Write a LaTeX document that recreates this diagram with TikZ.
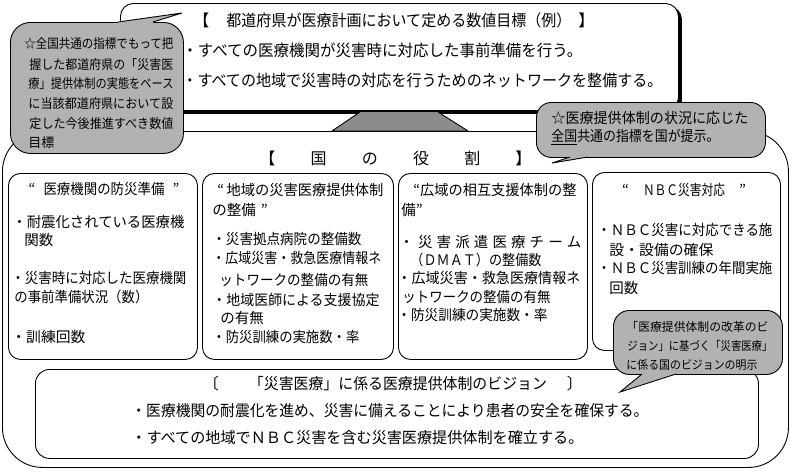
\documentclass[tikz,border=0pt]{standalone}
\usepackage{fontspec}
\setmainfont{Noto Sans CJK JP}
\usepackage{graphicx}
\definecolor{callgray}{RGB}{178,178,178}
\definecolor{trapgray}{RGB}{140,140,140}
\newcommand\fitw[2]{\resizebox{#1pt}{\height}{#2}}
\newcommand\tline[5]{\node[txt] (#1) at (#2,#3) {\fitw{#4}{#5}};}
\tikzset{
  box/.style={draw, fill=white, rounded corners=12pt, line width=0.9pt, inner sep=0pt, anchor=north west},
  callout/.style={draw, fill=callgray, line width=0.9pt, inner sep=0pt, anchor=north west},
  txt/.style={inner sep=0pt, anchor=west},
  fbig/.style={font=\fontsize{16}{19}\selectfont},
  fmid/.style={font=\fontsize{15.5}{18}\selectfont},
  fbox/.style={font=\fontsize{14.5}{17}\selectfont},
  fcall/.style={font=\fontsize{13}{15}\selectfont},
  fsmall/.style={font=\fontsize{12}{14}\selectfont},
}
\begin{document}
\begin{tikzpicture}[x=1pt,y=-1pt,line width=0.9pt]
\useasboundingbox (0,0) rectangle (792,471);
\fill[white] (0,0) rectangle (792,471);

% outer frame and inner boxes
\node[box, rounded corners=40pt, minimum width=786pt, minimum height=336pt] (outer) at (2,131) {};
\node[box, minimum width=189pt, minimum height=186pt] (b1) at (8,173) {};
\node[box, minimum width=191pt, minimum height=186pt] (b2) at (202,173) {};
\node[box, minimum width=189pt, minimum height=186pt] (b3) at (398,173) {};
\node[box, minimum width=188pt, minimum height=178pt] (b4) at (592,172) {};
\node[box, rounded corners=14pt, minimum width=723pt, minimum height=89pt] (vb) at (35,369) {};

% top box with shadow
\node[box, fill=black, rounded corners=13pt, minimum width=558pt, minimum height=107pt] (tshadow) at (123,6) {};
\node[box, rounded corners=13pt, minimum width=558pt, minimum height=107pt] (tb) at (120,3) {};

% trapezoid link
\fill[trapgray] (332,131) -- (360,112) -- (438,112) -- (468,131) -- cycle;
\draw (332,131) -- (360,112) (438,112) -- (468,131) (332,131) -- (468,131);

% left callout
\node[callout, rounded corners=20pt, minimum width=173pt, minimum height=131pt] (lc) at (10,22) {};
\fill[callgray] (118,22) -- (182,13) -- (153,22) -- (153,24.5) -- (118,24.5) -- cycle;
\draw (118,22) -- (182,13) -- (153,22);

% right callout
\node[callout, rounded corners=15pt, minimum width=229pt, minimum height=55pt] (rc) at (536,102) {};
\fill[callgray] (570,157) -- (552,163) -- (588,157) -- (588,154.5) -- (570,154.5) -- cycle;
\draw (570,157) -- (552,163) -- (588,157);

% bottom-right callout
\node[callout, rounded corners=16pt, minimum width=169pt, minimum height=64pt] (brc) at (613,310) {};
\fill[callgray] (642,374) -- (620,392) -- (676,374) -- (676,371.5) -- (642,371.5) -- cycle;
\draw (642,374) -- (620,392) -- (676,374);

% top box text
\begin{scope}[every node/.append style={fbig}]
\node[txt] (ttitle) at (193,20) {【\hspace{17pt}\fitw{345}{都道府県が医療計画において定める数値目標（例）}\hspace{7pt}】};
\tline{t1}{182}{50}{400}{・すべての医療機関が災害時に対応した事前準備を行う。}
\tline{t2}{182}{80}{480}{・すべての地域で災害時の対応を行うためのネットワークを整備する。}
\node[txt] (hdr) at (259,158) {\makebox[272pt]{【\hfill 国\hfill の\hfill 役\hfill 割\hfill 】}};
\end{scope}

% left callout text
\begin{scope}[every node/.append style={fcall}]
\tline{l1}{24}{44}{149}{☆全国共通の指標でもって把}
\tline{l2}{29}{65}{144}{握した都道府県の「災害医}
\tline{l3}{28}{84}{145}{療」提供体制の実態をベース}
\tline{l4}{28}{104}{145}{に当該都道府県において設}
\tline{l5}{29}{124}{144}{定した今後推進すべき数値}
\node[txt] (l6) at (28,143) {目標};
\end{scope}

% right callout text
\begin{scope}[every node/.append style={font=\fontsize{14.5}{17}\selectfont}]
\tline{r1}{551}{118}{197}{☆医療提供体制の状況に応じた}
\tline{r2}{551}{137}{168}{\underline{全国}共通の指標を国が提示。}
\end{scope}

% bottom-right callout text
\begin{scope}[every node/.append style={fsmall}]
\tline{c1}{626}{327}{142}{「医療提供体制の改革のビ}
\tline{c2}{627}{346}{145}{ジョン」に基づく「災害医療」}
\tline{c3}{626}{365}{131}{に係る国のビジョンの明示}
\end{scope}

% box texts
\begin{scope}[every node/.append style={fbox}]
\node[inner sep=0pt] (h1) at (104,189) {“\hspace{8pt}\fitw{121}{医療機関の防災準備}\hspace{8pt}”};
\tline{a1}{12}{222}{172}{・耐震化されている医療機}
\node[txt] (a2) at (24,240) {関数};
\tline{a3}{11}{278}{175}{・災害時に対応した医療機関}
\tline{a4}{14}{297}{134}{の事前準備状況（数）}
\tline{a5}{11}{337}{74}{・訓練回数}

\tline{h2}{217}{190}{166}{“\,地域の災害医療提供体制}
\node[txt] (h2b) at (212,210) {の整備\hspace{5pt}”};
\tline{c21}{212}{239}{149}{・災害拠点病院の整備数}
\tline{c22}{212}{258}{169}{・広域災害・救急医療情報ネ}
\tline{c23}{219}{280}{149}{ットワークの整備の有無}
\tline{c24}{212}{300}{167}{・地域医師による支援協定}
\node[txt] (c25) at (220,318) {の有無};
\tline{c26}{212}{337}{147}{・防災訓練の実施数・率}

\tline{h3}{413}{190}{163}{“広域の相互支援体制の整}
\node[txt] (h3b) at (401,210) {備”};
\node[txt] (d1) at (399,242) {\makebox[182pt]{・\hfill 災\hfill 害\hfill 派\hfill 遣\hfill 医\hfill 療\hfill チ\hfill ー\hfill ム}};
\tline{d2}{410}{260}{131}{（ＤＭＡＴ）の整備数}
\tline{d3}{397}{278}{183}{・広域災害・救急医療情報ネ}
\tline{d4}{402}{297}{148}{ットワークの整備の有無}
\tline{d5}{397}{315}{150}{・防災訓練の実施数・率}

\node[inner sep=0pt] (h4) at (684,190) {“\hspace{14pt}\fitw{82}{ＮＢＣ災害対応}\hspace{14pt}”};
\tline{e1}{597}{230}{175}{・ＮＢＣ災害に対応できる施}
\tline{e2}{609}{250}{104}{設・設備の確保}
\tline{e3}{597}{268}{175}{・ＮＢＣ災害訓練の年間実施}
\node[txt] (e4) at (609,288) {回数};
\end{scope}

% vision box text
\begin{scope}[every node/.append style={fmid}]
\node[txt] (vh) at (203,384) {〔\hspace{30pt}\fitw{298}{「災害医療」に係る医療提供体制のビジョン}\hspace{20pt}〕};
\tline{v1}{131}{411}{517}{・医療機関の耐震化を進め、災害に備えることにより患者の安全を確保する。}
\tline{v2}{131}{438}{452}{・すべての地域でＮＢＣ災害を含む災害医療提供体制を確立する。}
\end{scope}
\end{tikzpicture}
\end{document}
